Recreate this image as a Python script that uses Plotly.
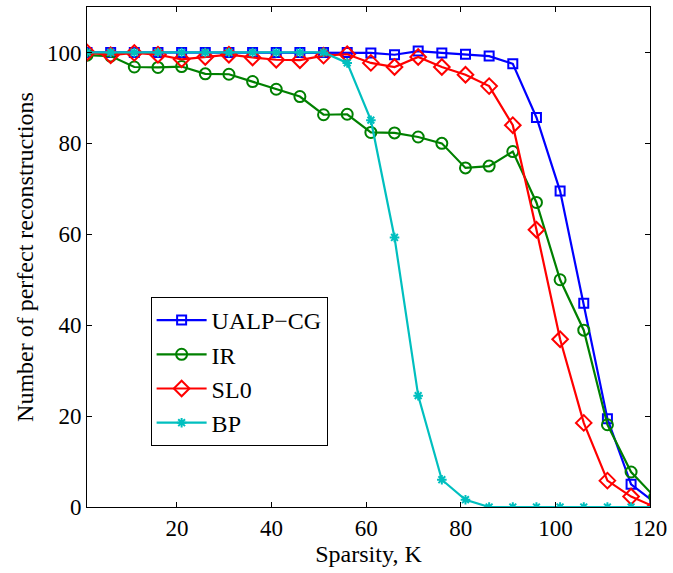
import plotly.graph_objects as go

K = [1, 6, 11, 16, 21, 26, 31, 36, 41, 46, 51, 56, 61, 66, 71, 76, 81, 86, 91, 96, 101, 106, 111, 116, 121]

ualp_cg = [100, 100, 100, 100, 100, 100, 100, 100, 100, 100, 100, 100, 99.9, 99.5, 100.3, 99.9, 99.6, 99.2, 97.5, 85.7, 69.5, 44.8, 19.4, 5.0, 1.0]
ir = [99.4, 99.2, 96.8, 96.7, 96.9, 95.3, 95.2, 93.6, 91.9, 90.3, 86.3, 86.4, 82.4, 82.3, 81.4, 80.0, 74.6, 75.0, 78.2, 67.0, 50.0, 38.9, 18.1, 7.7, 2.2]
sl0 = [100, 99.4, 99.9, 99.5, 98.5, 99.0, 99.5, 98.9, 98.4, 98.3, 99.3, 99.6, 97.7, 96.8, 99.0, 96.8, 95.1, 92.6, 84.0, 61.0, 36.9, 18.5, 5.8, 2.3, 0.0]
bp = [100, 100, 100, 100, 100, 100, 100, 100, 100, 100, 100, 97.7, 85.1, 59.3, 24.5, 6.0, 1.6, 0, 0, 0, 0, 0, 0, 0, 0]

series = [
    ("UALP\u2212CG", ualp_cg, "#0000FF", "square-open", 9),
    ("IR", ir, "#008000", "circle-open", 11),
    ("SL0", sl0, "#FF0000", "diamond-open", 12),
    ("BP", bp, "#00BFBF", "asterisk-open", 8),
]

FONT = "Liberation Serif"

fig = go.Figure()
for name, vals, color, sym, size in series:
    fig.add_trace(go.Scatter(
        x=K, y=vals, name=name, mode="lines+markers",
        line=dict(color=color, width=2.2),
        marker=dict(symbol=sym, size=size, color=color, line=dict(color=color, width=2)),
    ))

axis_common = dict(
    showline=True, linecolor="black", linewidth=1, mirror="ticks",
    ticks="inside", ticklen=5, tickcolor="black", tickwidth=1,
    showgrid=False, zeroline=False,
    tickfont=dict(family=FONT, size=23, color="black"),
)

fig.update_layout(
    width=673, height=573,
    margin=dict(l=87, r=20, t=6, b=66),
    paper_bgcolor="white", plot_bgcolor="white",
    font=dict(family=FONT, size=24, color="black"),
    xaxis=dict(range=[1, 120], tickvals=[20, 40, 60, 80, 100, 120],
               title=dict(text="Sparsity, K", font=dict(family=FONT, size=24), standoff=2),
               **axis_common),
    yaxis=dict(range=[0, 110], tickvals=[0, 20, 40, 60, 80, 100],
               title=dict(text="Number of perfect reconstructions", font=dict(family=FONT, size=24), standoff=6),
               **axis_common),
    legend=dict(x=0.113, y=0.42, xanchor="left", yanchor="top",
                bordercolor="black", borderwidth=1, bgcolor="white",
                font=dict(family=FONT, size=24, color="black"),
                itemwidth=50, tracegroupgap=0),
    showlegend=True,
)

fig.write_html("out.html")
